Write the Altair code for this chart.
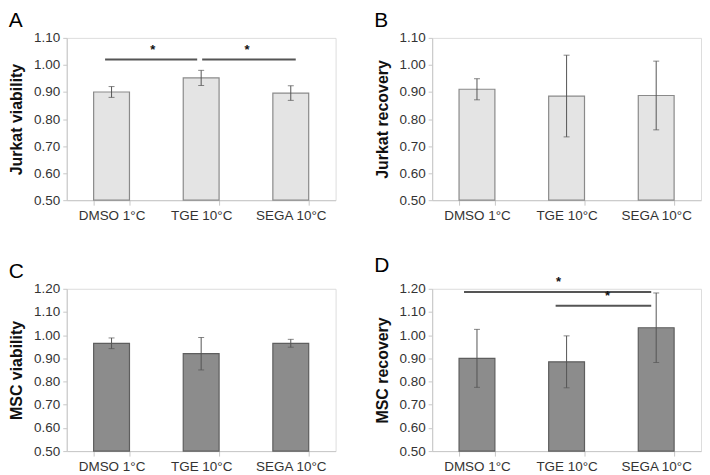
import altair as alt
import pandas as pd

categories = ["DMSO 1°C", "TGE 10°C", "SEGA 10°C"]

# Panel A: Jurkat viability
jurkat_viability = [0.900, 0.952, 0.896]
jurkat_viability_err = [0.020, 0.028, 0.027]
# Panel B: Jurkat recovery
jurkat_recovery = [0.910, 0.885, 0.887]
jurkat_recovery_err = [0.039, 0.151, 0.127]
# Panel C: MSC viability
msc_viability = [0.965, 0.920, 0.965]
msc_viability_err = [0.023, 0.070, 0.017]
# Panel D: MSC recovery
msc_recovery = [0.900, 0.885, 1.032]
msc_recovery_err = [0.125, 0.112, 0.150]

ticks_jurkat = [0.50, 0.60, 0.70, 0.80, 0.90, 1.00, 1.10]
ticks_msc = [0.50, 0.60, 0.70, 0.80, 0.90, 1.00, 1.10, 1.20]

# significance brackets: (from, to, height)
sig_from_A = ["DMSO 1°C", "TGE 10°C"]
sig_to_A = ["TGE 10°C", "SEGA 10°C"]
sig_y_A = [1.02, 1.02]
sig_from_D = ["DMSO 1°C", "TGE 10°C"]
sig_to_D = ["SEGA 10°C", "SEGA 10°C"]
sig_y_D = [1.186, 1.127]

FONT = "Liberation Sans"
W, H = 270, 163


def panel(letter, title, means, errs, ticks, fill, stroke, sig=None, offsets=None):
    df = pd.DataFrame({"cat": categories, "mean": means, "err": errs})
    df["lo"] = df["mean"] - df["err"]
    df["hi"] = df["mean"] + df["err"]

    xscale = alt.Scale(domain=categories, paddingInner=0.6, paddingOuter=0.3)
    xaxis = alt.Axis(title=None, labelAngle=0, tickBand="extent", tickSize=5,
                     labelPadding=3, labelFontSize=13.5, labelColor="#333",
                     labelFont=FONT, domainColor="#c8c8c8", tickColor="#c8c8c8")
    yscale = alt.Scale(domain=[ticks[0], ticks[-1]], zero=False, nice=False)
    yaxis = alt.Axis(title=title, values=ticks, format=".2f", grid=False,
                     tickSize=4, labelPadding=3, labelFontSize=13.5,
                     labelColor="#333", labelFont=FONT, titleFont=FONT,
                     titleFontSize=16, titleFontWeight="bold", titleColor="#111",
                     titlePadding=9, domainColor="#c8c8c8", tickColor="#c8c8c8")

    def X(f="cat"):
        return alt.X(f"{f}:N", scale=xscale, axis=xaxis, sort=categories)

    def Y(f):
        return alt.Y(f"{f}:Q", scale=yscale, axis=yaxis)

    base = alt.Chart(df)
    bars = base.mark_bar(fill=fill, stroke=stroke, strokeWidth=1.2).encode(
        x=X(), y=Y("mean"), y2=alt.datum(ticks[0]))
    rules = base.mark_rule(color="#555", strokeWidth=1).encode(
        x=X(), y=Y("lo"), y2="hi:Q")
    cap_lo = base.mark_tick(color="#555", size=6, thickness=1).encode(x=X(), y=Y("lo"))
    cap_hi = base.mark_tick(color="#555", size=6, thickness=1).encode(x=X(), y=Y("hi"))
    layers = [bars, rules, cap_lo, cap_hi]

    if sig is not None:
        froms, tos, ys = sig
        for i in range(len(froms)):
            sdf = pd.DataFrame({"from": [froms[i]], "to": [tos[i]], "y": [ys[i]]})
            o1, o2, oa = offsets[i]
            s = alt.Chart(sdf)
            line = s.mark_rule(color="#555", strokeWidth=2, xOffset=o1, x2Offset=o2).encode(
                x=X("from"), x2="to:N", y=Y("y"))
            star = s.mark_text(text="*", fontSize=13, font=FONT, fontWeight="bold",
                               color="#111", xOffset=oa, dy=-3, baseline="bottom").encode(
                x=X("from"), y=Y("y"))
            layers += [line, star]

    return alt.layer(*layers).properties(
        width=W, height=H,
        title=alt.TitleParams(letter, anchor="start", frame="bounds", fontSize=21,
                              fontWeight="normal", font=FONT, color="#000", offset=0))


pA = panel("A", "Jurkat viability", jurkat_viability, jurkat_viability_err, ticks_jurkat,
           "#e4e4e4", "#8a8a8a", (sig_from_A, sig_to_A, sig_y_A),
           [(-6.5, -4, 41.5), (1, 5, 46)])
pB = panel("B", "Jurkat recovery", jurkat_recovery, jurkat_recovery_err, ticks_jurkat,
           "#e4e4e4", "#8a8a8a")
pC = panel("C", "MSC viability", msc_viability, msc_viability_err, ticks_msc,
           "#8c8c8c", "#5e5e5e")
pD = panel("D", "MSC recovery", msc_recovery, msc_recovery_err, ticks_msc,
           "#8c8c8c", "#5e5e5e", (sig_from_D, sig_to_D, sig_y_D),
           [(-13, -5, 82), (-11, -5, 41)])

chart = alt.vconcat(
    alt.hconcat(pA, pB, spacing=37),
    alt.hconcat(pC, pD, spacing=37),
    spacing=32,
).configure_view(stroke=None).configure(padding=0, background="white")

chart.save("out.html", embed_options={"renderer": "svg", "actions": False})
